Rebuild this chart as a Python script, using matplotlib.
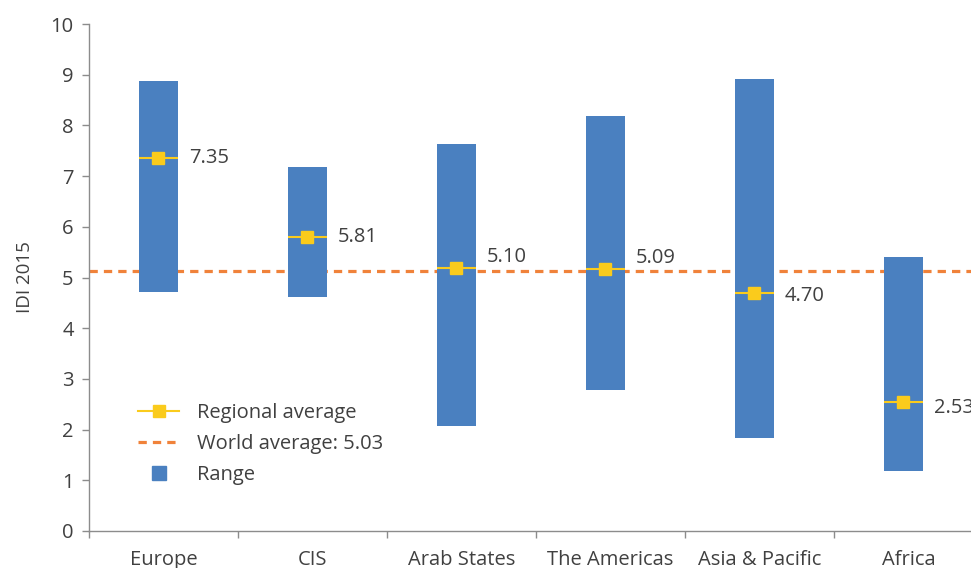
import matplotlib
matplotlib.use("Agg")
import matplotlib.pyplot as plt
from matplotlib.lines import Line2D
import numpy as np

plt.rcParams['font.family'] = ['Open Sans', 'DejaVu Sans']

regions = ["Europe", "CIS", "Arab States", "The Americas", "Asia & Pacific", "Africa"]
range_low = [4.72, 4.62, 2.08, 2.79, 1.83, 1.18]
range_high = [8.88, 7.18, 7.63, 8.19, 8.92, 5.40]
regional_avg = [7.35, 5.79, 5.18, 5.17, 4.69, 2.54]
avg_labels = ["7.35", "5.81", "5.10", "5.09", "4.70", "2.53"]
world_avg = 5.12
world_label = "World average: 5.03"
y_ticks = [0, 1, 2, 3, 4, 5, 6, 7, 8, 9, 10]

BLUE = "#4A80C0"
YELLOW = "#FACB1C"
ORANGE = "#F0823A"
TEXT = "#404040"
AXIS = "#8C8C8C"
FS = 14.5

fig = plt.figure(figsize=(9.71, 5.68), dpi=100)
ax = fig.add_axes([89/971, 37/568, (983-89)/971, (531-24)/568])

x = np.arange(len(regions))
xb = x - 0.035
bw = 0.26
low = np.array(range_low)
high = np.array(range_high)
ax.bar(xb, high - low, bottom=low, width=bw, color=BLUE, zorder=2)

ax.axhline(world_avg, color=ORANGE, lw=2.3, ls=(0, (2.6, 1.9)), zorder=1)

ax.hlines(regional_avg, xb - bw/2, xb + bw/2, color=YELLOW, lw=1.5, zorder=3)
ax.plot(xb, regional_avg, ls='none', marker='s', ms=8, color=YELLOW, zorder=4)

offsets = [0, 0, 8, 8, -2, -4]
for xi, yi, lab, off in zip(xb, regional_avg, avg_labels, offsets):
    ax.annotate(lab, (xi + bw/2, yi), xytext=(8, off), textcoords='offset points',
                va='center', ha='left', fontsize=FS, color=TEXT, zorder=5)

ax.set_xlim(-0.5, len(regions) - 0.5)
ax.set_ylim(0, 10)
ax.set_yticks(y_ticks)
ax.set_xticks(x)
ax.set_xticklabels(regions)
ax.set_xticks(np.arange(len(regions) + 1) - 0.5, minor=True)
ax.tick_params(axis='x', which='major', length=0, pad=14, labelsize=FS, labelcolor=TEXT)
ax.tick_params(axis='x', which='minor', length=5, width=1, color=AXIS, direction='out')
ax.tick_params(axis='y', length=5, width=1, color=AXIS, labelsize=FS, labelcolor=TEXT, pad=6)

for s in ['top', 'right']:
    ax.spines[s].set_visible(False)
for s in ['left', 'bottom']:
    ax.spines[s].set_color(AXIS)
    ax.spines[s].set_linewidth(1)

ax.set_ylabel("IDI 2015", fontsize=13.5, color=TEXT, labelpad=12)

handles = [
    Line2D([0], [0], color=YELLOW, lw=1.5, marker='s', ms=8),
    Line2D([0], [0], color=ORANGE, lw=2.3, ls=(0, (2.6, 1.9))),
    Line2D([0], [0], ls='none', marker='s', ms=10, color=BLUE),
]
labels = ["Regional average", world_label, "Range"]
leg = ax.legend(handles, labels, loc='lower left', bbox_to_anchor=(0.035, 0.055),
                frameon=False, fontsize=FS, labelcolor=TEXT, handlelength=2.0,
                handletextpad=0.9, labelspacing=0.55)

fig.savefig("out.png", dpi=100)
